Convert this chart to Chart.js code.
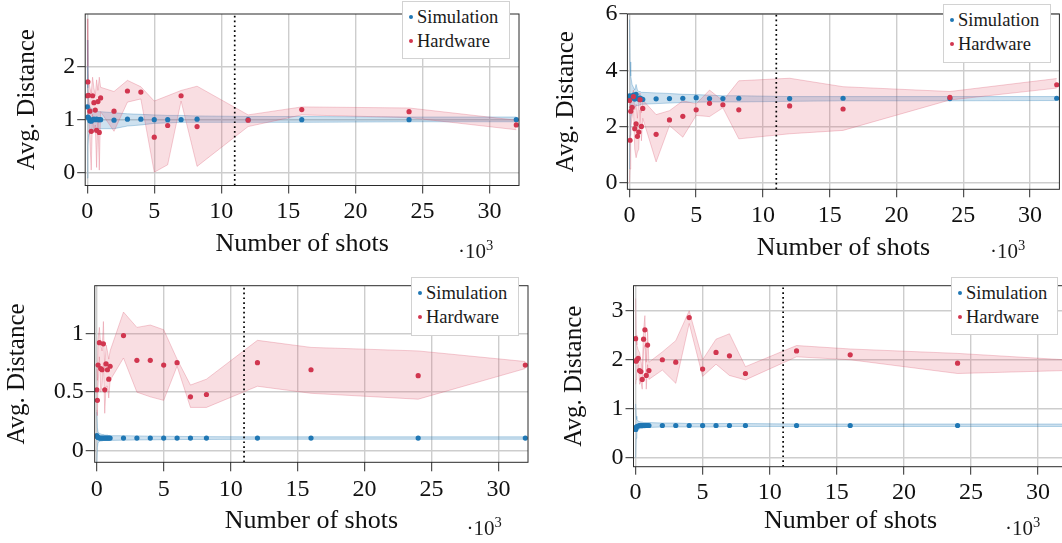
<!DOCTYPE html>
<html>
<head>
<meta charset="utf-8">
<title>Avg. Distance vs. number of shots</title>
<script src="https://cdn.jsdelivr.net/npm/chart.js@4.4.0/dist/chart.umd.min.js"></script>
<style>
    html, body { margin: 0; padding: 0; background: #fff; }
    body { position: relative; width: 1062px; height: 543px; overflow: hidden; font-family: "Liberation Serif", "Times New Roman", serif; }
    .panel { position: absolute; }
    .legend { position: absolute; background: #fff; border: 1px solid #d2d2d2; box-sizing: border-box; font-family: "Liberation Serif", "Times New Roman", serif; font-size: 18.5px; color: #1a1a1a; }
    .legend .dot { position: absolute; width: 4.4px; height: 4.4px; border-radius: 50%; }
    .legend .label { position: absolute; line-height: 20px; white-space: nowrap; font-family: "Liberation Serif", serif; }
    .exp { position: absolute; font-family: "Liberation Serif", serif; font-size: 21px; line-height: 21px; color: #1a1a1a; white-space: nowrap; }
    .exp .sup { font-size: 14.5px; position: relative; top: -8px; }
</style>
</head>
<body>
<script>
// x values in units of 10^3 shots
const shots = [0.01, 0.05, 0.1, 0.2, 0.3, 0.4, 0.5, 0.6, 0.7, 0.8, 0.9, 1, 2, 3, 4, 5, 6, 7, 8.192, 12, 16, 24, 32];
const xTicks = [0, 5, 10, 15, 20, 25, 30];
const cutoff = 11;
const seriesNames = ['Simulation', 'Hardware'];

// panel 1 (top left)
const sim1   = [1.24, 1.05, 1.03, 0.98, 0.97, 1.00, 1.01, 1.00, 1.01, 1.00, 1.00, 1.00, 0.99, 1.01, 1.01, 1.00, 1.00, 1.00, 1.01, 1.00, 1.00, 1.00, 1.00];
const sim1Hi = [2.50, 1.60, 1.35, 1.25, 1.20, 1.20, 1.18, 1.17, 1.16, 1.15, 1.15, 1.15, 1.13, 1.11, 1.10, 1.09, 1.08, 1.08, 1.07, 1.06, 1.06, 1.05, 1.05];
const sim1Lo = [-0.10, 0.50, 0.70, 0.75, 0.78, 0.80, 0.80, 0.82, 0.82, 0.83, 0.83, 0.83, 0.83, 0.88, 0.90, 0.93, 0.94, 0.95, 0.95, 0.95, 0.95, 0.96, 0.96];
const hw1    = [1.45, 1.71, 1.46, 1.16, 0.78, 1.45, 1.32, 1.18, 0.80, 1.34, 0.76, 1.41, 1.16, 1.54, 1.52, 0.67, 0.89, 1.45, 0.87, 0.99, 1.19, 1.15, 0.90];
const hw1Hi  = [2.90, 2.00, 1.75, 1.60, 1.50, 1.80, 1.60, 1.45, 1.75, 1.55, 1.80, 1.61, 1.53, 1.74, 1.62, 1.35, 1.45, 1.55, 1.63, 1.09, 1.24, 1.22, 0.99];
const hw1Lo  = [1.00, 1.30, 1.10, 0.60, 0.05, 1.10, 0.75, 0.90, 0.10, 1.00, 0.05, 1.15, 0.78, 1.33, 1.39, 0.01, 0.15, 1.35, 0.12, 0.87, 1.09, 1.04, 0.81];

// panel 2 (top right)
const sim2   = [3.10, 3.08, 3.00, 3.05, 3.12, 2.98, 3.15, 3.00, 2.98, 3.02, 2.98, 2.97, 2.99, 3.00, 3.01, 3.03, 3.00, 3.00, 3.01, 3.00, 3.01, 3.00, 3.01];
const sim2Hi = [5.80, 4.30, 3.80, 3.50, 3.40, 3.30, 3.50, 3.30, 3.25, 3.25, 3.22, 3.22, 3.20, 3.18, 3.15, 3.14, 3.12, 3.10, 3.10, 3.07, 3.07, 3.07, 3.07];
const sim2Lo = [0.50, 1.70, 2.30, 2.55, 2.65, 2.70, 2.75, 2.75, 2.75, 2.78, 2.80, 2.80, 2.82, 2.84, 2.86, 2.87, 2.88, 2.88, 2.88, 2.90, 2.92, 2.92, 2.93];
const hw2    = [2.93, 1.52, 2.55, 2.69, 3.07, 1.93, 2.10, 1.66, 1.81, 2.96, 2.01, 2.65, 1.73, 2.24, 2.37, 2.60, 2.83, 2.78, 2.60, 2.74, 2.63, 3.04, 3.49];
const hw2Hi  = [3.20, 2.60, 3.00, 3.00, 3.30, 2.60, 2.80, 2.30, 3.10, 3.20, 2.50, 2.95, 2.43, 2.57, 2.92, 2.81, 3.30, 2.92, 3.63, 3.72, 3.42, 3.25, 3.71];
const hw2Lo  = [0.00, 0.50, 2.00, 2.30, 2.70, 1.20, 0.90, 1.10, 1.20, 2.60, 1.50, 2.30, 0.75, 2.04, 1.63, 2.40, 2.36, 2.67, 1.57, 1.75, 1.87, 2.95, 3.37];

// panel 3 (bottom left)
const sim3   = [0.13, 0.12, 0.115, 0.11, 0.11, 0.11, 0.11, 0.11, 0.11, 0.11, 0.11, 0.11, 0.11, 0.11, 0.11, 0.11, 0.11, 0.11, 0.11, 0.11, 0.11, 0.11, 0.11];
const sim3Hi = [0.33, 0.20, 0.16, 0.15, 0.145, 0.14, 0.14, 0.135, 0.135, 0.135, 0.13, 0.13, 0.13, 0.128, 0.126, 0.125, 0.124, 0.123, 0.122, 0.12, 0.12, 0.12, 0.12];
const sim3Lo = [-0.10, 0.03, 0.07, 0.08, 0.085, 0.085, 0.09, 0.09, 0.09, 0.09, 0.09, 0.09, 0.092, 0.094, 0.095, 0.096, 0.097, 0.098, 0.098, 0.10, 0.10, 0.10, 0.10];
const hw3    = [0.52, 0.43, 0.73, 0.92, 0.70, 0.69, 0.91, 0.52, 0.74, 0.69, 0.61, 0.72, 0.98, 0.77, 0.77, 0.73, 0.75, 0.46, 0.48, 0.75, 0.69, 0.64, 0.73];
const hw3Hi  = [0.70, 0.60, 0.95, 1.05, 0.90, 0.85, 1.10, 0.70, 0.90, 0.85, 0.78, 0.85, 1.18, 1.05, 1.07, 1.03, 0.78, 0.56, 0.61, 0.94, 0.88, 0.85, 0.76];
const hw3Lo  = [0.35, 0.30, 0.55, 0.80, 0.50, 0.55, 0.75, 0.32, 0.55, 0.55, 0.45, 0.60, 0.79, 0.50, 0.46, 0.43, 0.72, 0.37, 0.37, 0.55, 0.49, 0.44, 0.70];

// panel 4 (bottom right)
const sim4   = [0.58, 0.62, 0.64, 0.65, 0.66, 0.66, 0.66, 0.66, 0.66, 0.66, 0.66, 0.66, 0.66, 0.66, 0.66, 0.66, 0.66, 0.66, 0.66, 0.66, 0.66, 0.66, 0.66];
const sim4Hi = [1.10, 0.85, 0.78, 0.75, 0.74, 0.73, 0.73, 0.72, 0.72, 0.72, 0.72, 0.72, 0.71, 0.71, 0.70, 0.70, 0.70, 0.70, 0.70, 0.69, 0.69, 0.69, 0.69];
const sim4Lo = [0.00, 0.40, 0.52, 0.57, 0.59, 0.60, 0.60, 0.61, 0.61, 0.62, 0.62, 0.62, 0.63, 0.63, 0.63, 0.63, 0.63, 0.64, 0.64, 0.64, 0.64, 0.64, 0.64];
const hw4    = [2.43, 1.97, 2.00, 2.03, 1.78, 1.76, 1.60, 2.42, 2.61, 1.68, 2.30, 1.78, 2.00, 1.95, 2.86, 1.81, 2.15, 2.08, 1.72, 2.18, 2.10, 1.93, 1.89];
const hw4Hi  = [3.25, 2.50, 2.30, 2.20, 2.15, 2.00, 1.80, 2.60, 2.90, 1.95, 2.60, 1.95, 2.16, 2.39, 3.00, 2.00, 2.42, 2.53, 1.86, 2.29, 2.22, 2.13, 2.00];
const hw4Lo  = [1.50, 1.60, 1.70, 1.90, 1.50, 1.55, 1.40, 2.20, 2.30, 1.40, 1.90, 1.60, 1.79, 1.52, 2.74, 1.66, 1.91, 1.68, 1.59, 2.06, 2.00, 1.72, 1.78];

const FONT = '"Liberation Serif", "Times New Roman", serif';
const BLUE = '#1f77b4';
const RED = '#d1364f';

// layout of each panel: canvas box, plot area (page px), axis ranges, overlays
const panels = [
    { box: [0, 0, 531, 270], plot: [85.2, 10, 519, 185.5], yMin: -0.24, yMax: 2.99, yTicks: [0, 1, 2],
      sim: sim1, simHi: sim1Hi, simLo: sim1Lo, hw: hw1, hwHi: hw1Hi, hwLo: hw1Lo,
      tick: 8, yTitlePad: 12, xTitlePad: 9.9, legend: [402, 1, 108, 58], exp: [458, 240.5] },
    { box: [531, 0, 531, 270], plot: [627.4, 12.7, 1061, 189.3], yMin: -0.22, yMax: 6.0, yTicks: [0, 2, 4, 6],
      sim: sim2, simHi: sim2Hi, simLo: sim2Lo, hw: hw2, hwHi: hw2Hi, hwLo: hw2Lo,
      tick: 8, yTitlePad: 20.5, xTitlePad: 6.5, legend: [943, 4, 108, 59], exp: [990, 240.5] },
    { box: [0, 270, 531, 273], plot: [94.7, 285.7, 528, 462.3], yMin: -0.096, yMax: 1.404, yTicks: [0, 0.5, 1],
      sim: sim3, simHi: sim3Hi, simLo: sim3Lo, hw: hw3, hwHi: hw3Hi, hwLo: hw3Lo,
      tick: 9, yTitlePad: 2.5, xTitlePad: 6.2, legend: [411, 277, 108, 59], exp: [466.5, 517.5] },
    { box: [531, 270, 545, 273], plot: [633.5, 285.7, 1067.6, 466.7], yMin: -0.18, yMax: 3.51, yTicks: [0, 1, 2, 3],
      sim: sim4, simHi: sim4Hi, simLo: sim4Lo, hw: hw4, hwHi: hw4Hi, hwLo: hw4Lo,
      tick: 8, yTitlePad: 28, xTitlePad: 6.2, legend: [951, 277, 107, 58], exp: [1005, 517.5] }
];

function pts(ys) {
    return shots.map((x, i) => ({ x: x, y: ys[i] }));
}

// frame around the plot area
const frame = {
    id: 'frame',
    afterDatasetsDraw(chart) {
        const a = chart.chartArea;
        const ctx = chart.ctx;
        ctx.save();
        ctx.strokeStyle = '#2b2b2b';
        ctx.lineWidth = 1;
        ctx.strokeRect(a.left, a.top, a.right - a.left, a.bottom - a.top);
        ctx.restore();
    }
};

function pointSet(label, ys, color, order) {
    return {
        label: label, data: pts(ys), showLine: false, order: order,
        pointRadius: 2.6, pointHoverRadius: 2.6, pointBorderWidth: 0,
        pointBackgroundColor: color, borderColor: color, backgroundColor: color
    };
}

function bandSet(ys, edge, fillColor, order, fill) {
    return {
        data: pts(ys), order: order, fill: fill, tension: 0,
        pointRadius: 0, borderWidth: 1, borderColor: edge, backgroundColor: fillColor
    };
}

function drawPanel(p) {
    const [bx, by, bw, bh] = p.box;
    const [pl, pt, pr, pb] = p.plot;

    const wrap = document.createElement('div');
    wrap.className = 'panel';
    wrap.style.left = bx + 'px';
    wrap.style.top = by + 'px';
    const canvas = document.createElement('canvas');
    canvas.width = bw;
    canvas.height = bh;
    canvas.style.width = bw + 'px';
    canvas.style.height = bh + 'px';
    wrap.appendChild(canvas);
    document.body.appendChild(wrap);

    const datasets = [
        pointSet(seriesNames[1], p.hw, RED, 0),
        pointSet(seriesNames[0], p.sim, BLUE, 1),
        {
            data: [{ x: cutoff, y: p.yMin }, { x: cutoff, y: p.yMax }], order: 2,
            borderColor: '#000', borderWidth: 1.7, borderDash: [1.7, 3.1], pointRadius: 0
        },
        bandSet(p.hwHi, 'rgba(214, 80, 105, 0.28)', 'rgba(224, 90, 110, 0.2)', 3, false),
        bandSet(p.hwLo, 'rgba(214, 80, 105, 0.28)', 'rgba(224, 90, 110, 0.2)', 3, '-1'),
        bandSet(p.simHi, 'rgba(31, 119, 180, 0.3)', 'rgba(31, 119, 180, 0.22)', 4, false),
        bandSet(p.simLo, 'rgba(31, 119, 180, 0.3)', 'rgba(31, 119, 180, 0.22)', 4, '-1')
    ];

    new Chart(canvas, {
        type: 'line',
        data: { datasets: datasets },
        options: {
            responsive: false,
            animation: false,
            devicePixelRatio: 1,
            layout: { padding: { left: 0, top: pt - by, right: bx + bw - pr, bottom: 0 } },
            plugins: { legend: { display: false }, tooltip: { enabled: false } },
            scales: {
                x: {
                    type: 'linear', min: -0.15, max: 32.2,
                    afterBuildTicks: (axis) => { axis.ticks = xTicks.map(v => ({ value: v })); },
                    afterFit: (axis) => { axis.height = by + bh - pb; },
                    border: { display: false },
                    grid: { color: '#cdcdcd', lineWidth: 1.4, tickColor: '#2b2b2b', tickWidth: 1, tickLength: p.tick },
                    ticks: {
                        autoSkip: false, maxRotation: 0, padding: 6, color: '#111',
                        font: { family: FONT, size: 24, lineHeight: 1 },
                        callback: (v) => String(v)
                    },
                    title: {
                        display: true, text: 'Number of shots', color: '#111',
                        font: { family: FONT, size: 26 }, padding: { top: 0, bottom: p.xTitlePad }
                    }
                },
                y: {
                    type: 'linear', min: p.yMin, max: p.yMax,
                    afterBuildTicks: (axis) => { axis.ticks = p.yTicks.map(v => ({ value: v })); },
                    afterFit: (axis) => { axis.width = pl - bx; },
                    border: { display: false },
                    grid: { color: '#cdcdcd', lineWidth: 1.4, tickColor: '#2b2b2b', tickWidth: 1, tickLength: p.tick },
                    ticks: {
                        autoSkip: false, padding: 2, color: '#111',
                        font: { family: FONT, size: 24, lineHeight: 1 },
                        callback: (v) => String(v)
                    },
                    title: {
                        display: true, text: 'Avg. Distance', color: '#111',
                        font: { family: FONT, size: 25 }, padding: { top: p.yTitlePad, bottom: 0 }
                    }
                }
            }
        },
        plugins: [frame]
    });

    // legend box
    const [lx, ly, lw, lh] = p.legend;
    const box = document.createElement('div');
    box.className = 'legend';
    box.style.left = lx + 'px';
    box.style.top = ly + 'px';
    box.style.width = lw + 'px';
    box.style.height = lh + 'px';
    [BLUE, RED].forEach((color, i) => {
        const cy = 14.7 + 24 * i;
        const dot = document.createElement('span');
        dot.className = 'dot';
        dot.style.background = color;
        dot.style.left = '5.6px';
        dot.style.top = (cy - 2.2) + 'px';
        const label = document.createElement('span');
        label.className = 'label';
        label.textContent = seriesNames[i];
        label.style.left = '14px';
        label.style.top = (cy - 10) + 'px';
        box.appendChild(dot);
        box.appendChild(label);
    });
    document.body.appendChild(box);

    // x-axis scale factor
    const exp = document.createElement('div');
    exp.className = 'exp';
    exp.style.left = p.exp[0] + 'px';
    exp.style.top = p.exp[1] + 'px';
    exp.innerHTML = '·10<span class="sup">3</span>';
    document.body.appendChild(exp);
}

panels.forEach(drawPanel);
</script>
</body>
</html>
